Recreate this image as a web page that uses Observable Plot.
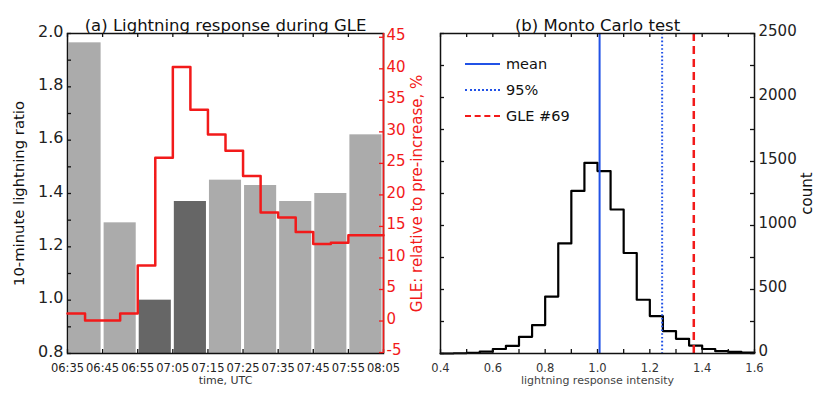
<!DOCTYPE html>
<html><head><meta charset="utf-8">
<script src="https://cdn.jsdelivr.net/npm/d3@7"></script>
<script src="https://cdn.jsdelivr.net/npm/@observablehq/plot@0.6"></script>
<style>
body{margin:0;background:#fff;}
#chart{position:relative;width:816px;height:395px;font-family:"DejaVu Sans",sans-serif;background:#fff;}
#chart svg{position:absolute;left:0;top:0;}
#legend{position:absolute;left:465px;top:51px;font-family:"DejaVu Sans",sans-serif;font-size:14.5px;color:#111;}
#legend .row{display:flex;align-items:center;height:26px;}
#legend .sw{width:35px;height:0;margin-right:6px;}
</style></head><body><div id="chart"></div>
<script>
// ---- data ----
const timeLabels = ["06:35","06:45","06:55","07:05","07:15","07:25","07:35","07:45","07:55","08:05"];
const ratioValues = [1.965, 1.29, 1.00, 1.37, 1.45, 1.43, 1.37, 1.40, 1.62];
const barGroups = ["other","other","onset","onset","other","other","other","other","other"];
const ratioTickLabels = [0.8, 1.0, 1.2, 1.4, 1.6, 1.8, 2.0];
const gleValues = [1.2, 0.1, 0.1, 1.2, 8.8, 25.9, 40.3, 33.5, 29.6, 27.0, 23.0, 17.2, 16.4, 14.1, 12.2, 12.4, 13.6, 13.6];
const gleTickLabels = [-5, 0, 5, 10, 15, 20, 25, 30, 35, 40, 45];
const binStarts = [0.40,0.45,0.50,0.55,0.60,0.65,0.70,0.75,0.80,0.85,0.90,0.95,1.00,1.05,1.10,1.15,1.20,1.25,1.30,1.35,1.40,1.45,1.50,1.55];
const binCounts = [0, 2, 5, 15, 35, 60, 130, 222, 445, 860, 1270, 1490, 1425, 1125, 785, 420, 292, 175, 115, 62, 35, 18, 12, 8];
const intensityTickLabels = [0.4, 0.6, 0.8, 1.0, 1.2, 1.4, 1.6];
const countTickLabels = [0, 500, 1000, 1500, 2000, 2500];
const meanValue = 1.008, pct95Value = 1.247, gleEventValue = 1.368;
const legendLabels = ["mean", "95%", "GLE #69"];

// ---- styles / layout ----
const W = 816, H = 395;
const RED = "#f21a1a", BLUE = "#2152e6";
const FONT = "DejaVu Sans";
const mTop = 33, mBottom = 42;
const leftM = {marginLeft: 67, marginRight: 433, marginTop: mTop, marginBottom: mBottom};
const rightM = {marginLeft: 440, marginRight: 62, marginTop: mTop, marginBottom: mBottom};
const innerW = W - 67 - 433, innerW2 = W - 440 - 62, innerH = H - mTop - mBottom;
const TL = 4;
const base = {width: W, height: H, style: {background: "transparent", fontFamily: FONT, color: "#111", overflow: "visible"}};

const bars = ratioValues.map((v, i) => ({i, j: i + 1, v, g: barGroups[i]}));
const glePts = gleValues.map((v, i) => ({x: i / 2, v}));
glePts.push({x: gleValues.length / 2, v: gleValues[gleValues.length - 1]});
const histPts = binStarts.map((x, i) => ({x, c: binCounts[i]}));
histPts.push({x: 1.6, c: binCounts[binCounts.length - 1]});

const xIdx = d3.range(timeLabels.length);
const ratioMinor = d3.range(8, 21).map(d => d / 10);
const intMinor = d3.range(4, 17).map(d => d / 10);
const countMinor = d3.range(0, 2501, 250);

// ---- panel (a): bars ----
const A = Plot.plot({
  ...base, ...leftM,
  x: {domain: [0, timeLabels.length - 1], axis: null},
  y: {domain: [ratioTickLabels[0], ratioTickLabels[ratioTickLabels.length - 1]], axis: null},
  color: {domain: ["other", "onset"], range: ["#ababab", "#666666"]},
  marks: [
    Plot.rect(bars, {x1: "i", x2: "j", y1: ratioTickLabels[0], y2: "v", fill: "g", insetLeft: 1.5, insetRight: 1.5}),
    Plot.tickY(ratioMinor, {y: d => d, insetRight: innerW - TL, stroke: "#111", strokeWidth: 1.3}),
    Plot.tickX(xIdx, {x: d => d, insetTop: innerH - TL, stroke: "#111", strokeWidth: 1.3}),
    Plot.tickX(xIdx, {x: d => d, insetBottom: innerH - TL, stroke: "#111", strokeWidth: 1.3}),
    Plot.frame({stroke: "#111", strokeWidth: 1.5}),
    Plot.axisY({ticks: ratioTickLabels, tickSize: 0, tickPadding: 4, dy: -2, tickFormat: d3.format(".1f"), fontSize: 16, label: null, color: "#222"}),
    Plot.axisX({ticks: xIdx, tickSize: 0, tickPadding: 10, tickFormat: i => timeLabels[i], fontSize: 11.5, label: null, color: "#222"}),
    Plot.text(["time, UTC"], {text: d => d, frameAnchor: "bottom", dy: 30, fontSize: 11, fill: "#333"}),
    Plot.text(["10-minute lightning ratio"], {text: d => d, frameAnchor: "left", textAnchor: "middle", dx: -48, rotate: -90, fontSize: 14.8, fill: "#111"}),
    Plot.text(["(a) Lightning response during GLE"], {text: d => d, frameAnchor: "top", dy: -14, fontSize: 16.5, fill: "#111"})
  ]
});

// ---- panel (a): red GLE overlay ----
const B = Plot.plot({
  ...base, ...leftM,
  x: {domain: [0, timeLabels.length - 1], axis: null},
  y: {domain: [-5.15, 45.6], axis: null},
  marks: [
    Plot.line(glePts, {x: "x", y: "v", curve: "step-after", stroke: RED, strokeWidth: 2.5}),
    Plot.ruleX([timeLabels.length - 1], {stroke: RED, strokeWidth: 1.6}),
    Plot.tickY(gleTickLabels, {y: d => d, insetLeft: innerW - TL, stroke: RED, strokeWidth: 1.3}),
    Plot.axisY({anchor: "right", ticks: gleTickLabels, tickSize: 0, tickPadding: 3, dy: -2, tickFormat: d => String(d), fontSize: 15, label: null, color: RED}),
    Plot.text(["GLE: relative to pre-increase, %"], {text: d => d, frameAnchor: "right", textAnchor: "middle", dx: 34, rotate: -90, fontSize: 15, fill: RED})
  ]
});

// ---- panel (b): Monte Carlo histogram ----
const C = Plot.plot({
  ...base, ...rightM,
  x: {domain: [intensityTickLabels[0], intensityTickLabels[intensityTickLabels.length - 1]], axis: null},
  y: {domain: [countTickLabels[0], countTickLabels[countTickLabels.length - 1]], axis: null},
  marks: [
    Plot.line(histPts, {x: "x", y: "c", curve: "step-after", stroke: "#000", strokeWidth: 2.2}),
    Plot.ruleX([meanValue], {stroke: BLUE, strokeWidth: 2}),
    Plot.ruleX([pct95Value], {stroke: BLUE, strokeWidth: 2, strokeDasharray: "1.6 2.2"}),
    Plot.ruleX([gleEventValue], {stroke: RED, strokeWidth: 2.5, strokeDasharray: "8 5"}),
    Plot.tickX(intMinor, {x: d => d, insetTop: innerH - TL, stroke: "#111", strokeWidth: 1.3}),
    Plot.tickX(intMinor, {x: d => d, insetBottom: innerH - TL, stroke: "#111", strokeWidth: 1.3}),
    Plot.tickY(countMinor, {y: d => d, insetRight: innerW2 - TL, stroke: "#111", strokeWidth: 1.3}),
    Plot.tickY(countMinor, {y: d => d, insetLeft: innerW2 - TL, stroke: "#111", strokeWidth: 1.3}),
    Plot.frame({stroke: "#111", strokeWidth: 1.5}),
    Plot.axisX({ticks: intensityTickLabels, tickSize: 0, tickPadding: 10, tickFormat: d3.format(".1f"), fontSize: 11.5, label: null, color: "#333"}),
    Plot.axisY({anchor: "right", ticks: countTickLabels, tickSize: 0, tickPadding: 4, dy: -2, tickFormat: d => String(d), fontSize: 15, label: null, color: "#222"}),
    Plot.text(["lightning response intensity"], {text: d => d, frameAnchor: "bottom", dy: 30, fontSize: 11, fill: "#444"}),
    Plot.text(["count"], {text: d => d, frameAnchor: "right", textAnchor: "middle", dx: 53, rotate: -90, fontSize: 15, fill: "#111"}),
    Plot.text(["(b) Monto Carlo test"], {text: d => d, frameAnchor: "top", dy: -14, fontSize: 16.5, fill: "#111"})
  ]
});

const chart = document.getElementById("chart");
chart.append(A, B, C);

// legend
const legend = document.createElement("div");
legend.id = "legend";
const swatches = [`2px solid ${BLUE}`, `2px dotted ${BLUE}`, `2.5px dashed ${RED}`];
legendLabels.forEach((t, i) => {
  const row = document.createElement("div"); row.className = "row";
  const sw = document.createElement("div"); sw.className = "sw"; sw.style.borderTop = swatches[i];
  const lab = document.createElement("span"); lab.textContent = t;
  row.append(sw, lab); legend.append(row);
});
chart.append(legend);
</script></body></html>
